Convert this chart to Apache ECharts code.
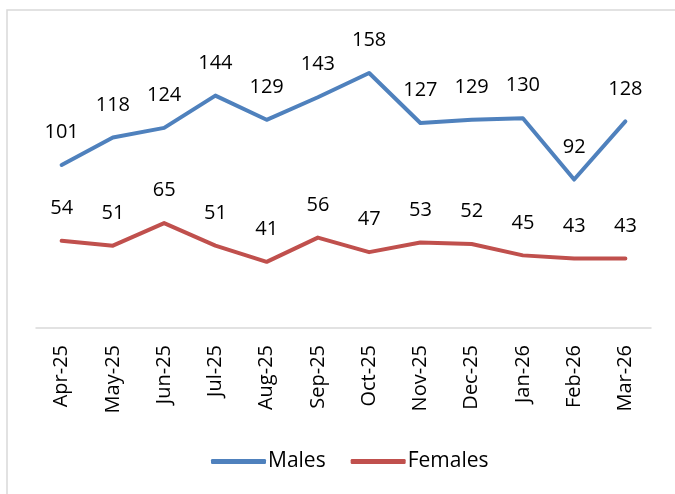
<!DOCTYPE html>
<html>
<head>
<meta charset="utf-8">
<script src="https://cdn.jsdelivr.net/npm/echarts@6/dist/echarts.min.js"></script>
<style>
  html, body { margin: 0; padding: 0; background: #fff; }
  #chart { width: 675px; height: 494px; }
</style>
</head>
<body>
<div id="chart"></div>
<script>
const months = ['Apr-25', 'May-25', 'Jun-25', 'Jul-25', 'Aug-25', 'Sep-25',
  'Oct-25', 'Nov-25', 'Dec-25', 'Jan-26', 'Feb-26', 'Mar-26']
const males = [101, 118, 124, 144, 129, 143, 158, 127, 129, 130, 92, 128]
const females = [54, 51, 65, 51, 41, 56, 47, 53, 52, 45, 43, 43]

const FONT = '"Open Sans", "Noto Sans", sans-serif'

function lineSeries(name, data, color) {
  return {
    name,
    type: 'line',
    data,
    symbol: 'circle',
    symbolSize: 1,
    itemStyle: { color },
    lineStyle: { width: 4, color, join: 'round', cap: 'round' },
    label: {
      show: true,
      position: 'top',
      distance: 22,
      color: '#000',
      fontSize: 20,
      fontFamily: FONT,
    },
  }
}

const chart = echarts.init(document.getElementById('chart'), null, { renderer: 'canvas' })
chart.setOption({
  animation: false,
  backgroundColor: '#fff',
  graphic: [
    {
      type: 'rect',
      shape: { x: 7, y: 10, width: 720, height: 540 },
      style: { fill: 'none', stroke: '#d9d9d9', lineWidth: 1.5 },
      silent: true,
    },
  ],
  grid: { left: 36, right: 24, top: 37.5, bottom: 166, containLabel: false },
  legend: {
    top: 446,
    left: 206,
    icon: 'roundRect',
    itemWidth: 55,
    itemHeight: 5,
    itemGap: 25,
    textStyle: { fontSize: 21, fontFamily: FONT, color: '#000', padding: [0, 0, 0, -3] },
    data: ['Males', 'Females'],
  },
  xAxis: {
    type: 'category',
    data: months,
    boundaryGap: true,
    axisLine: { lineStyle: { color: '#d9d9d9', width: 1.5 } },
    axisTick: { show: false },
    axisLabel: {
      rotate: 90,
      margin: 17,
      interval: 0,
      color: '#000',
      fontSize: 20,
      fontFamily: FONT,
    },
  },
  yAxis: {
    type: 'value',
    min: 0,
    max: 180,
    interval: 20,
    show: false,
    splitLine: { show: false },
  },
  series: [
    lineSeries('Males', males, '#4F81BD'),
    lineSeries('Females', females, '#C0504D'),
  ],
})
</script>
</body>
</html>
